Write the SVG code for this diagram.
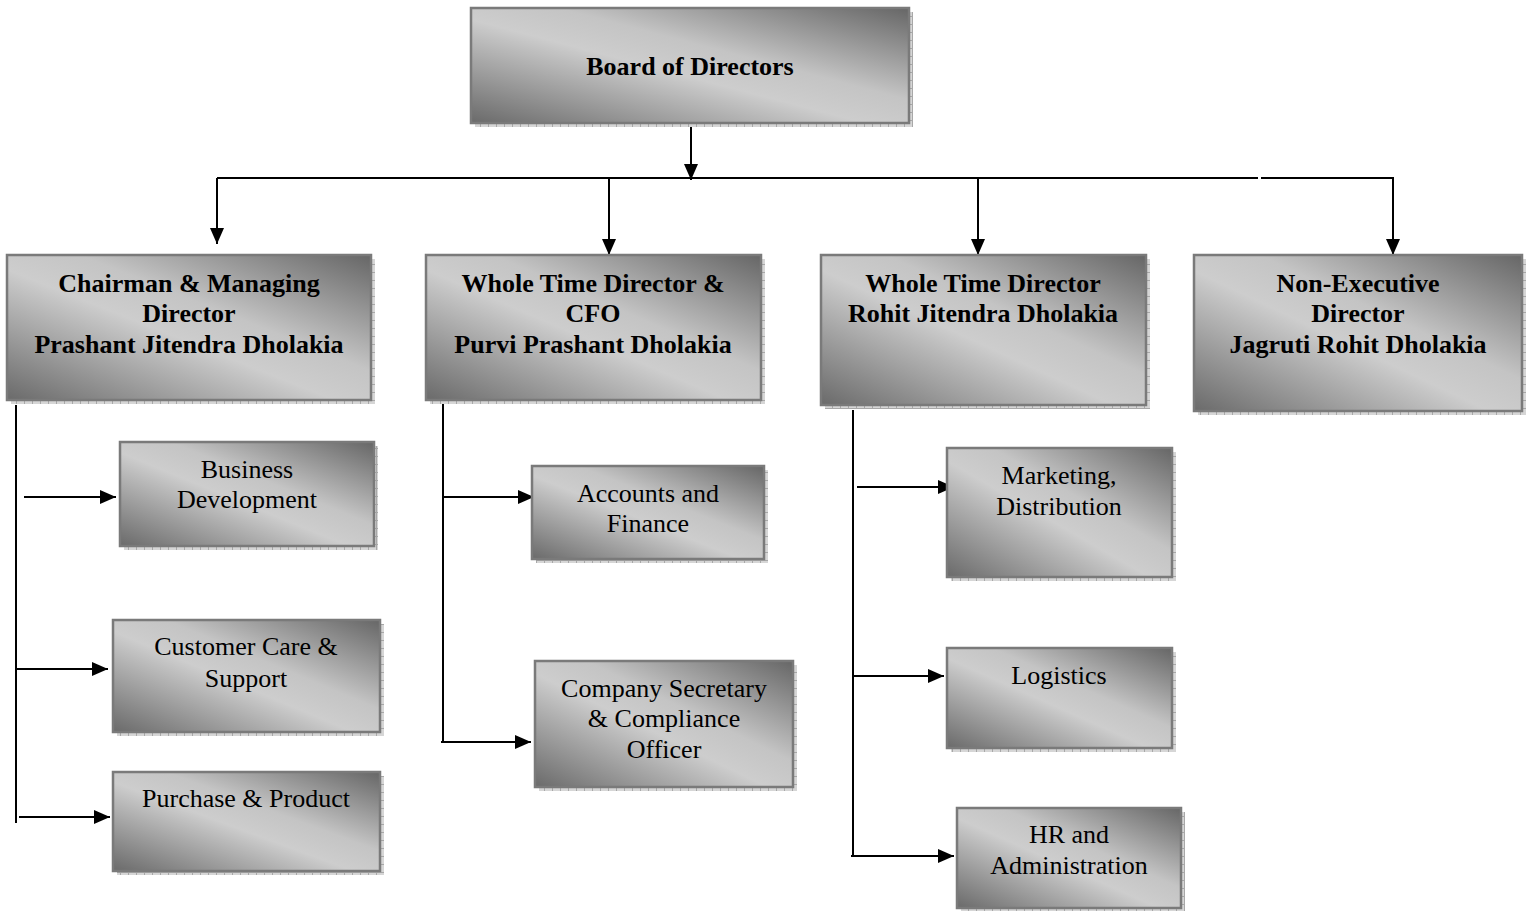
<svg xmlns="http://www.w3.org/2000/svg" width="1530" height="911" viewBox="0 0 1530 911">
<defs>
<linearGradient id="g" x1="0" y1="1" x2="1" y2="0">
<stop offset="0" stop-color="#6a6a6a"/>
<stop offset="0.45" stop-color="#cdcdcd"/>
<stop offset="0.6" stop-color="#c4c4c4"/>
<stop offset="1" stop-color="#666666"/>
</linearGradient>
<pattern id="hatch" width="8" height="8" patternUnits="userSpaceOnUse">
<rect width="8" height="8" fill="#d6d6d6"/>
<path d="M0 0.5H8M0.5 0V8" stroke="#a8a8a8" stroke-width="1"/>
</pattern>
<marker id="ah" viewBox="0 0 16 14" refX="16" refY="7" markerWidth="16" markerHeight="14" markerUnits="userSpaceOnUse" orient="auto">
<path d="M0 0L16 7L0 14Z" fill="#000"/>
</marker>
</defs>
<style>
.sh{fill:url(#hatch);}
.bx{fill:url(#g);stroke:#7a7a7a;stroke-width:2.5;}
.b{font-family:"Liberation Serif","Times New Roman",serif;font-weight:bold;font-size:26px;fill:#000;text-anchor:middle;}
.r{font-family:"Liberation Serif","Times New Roman",serif;font-size:26px;fill:#000;text-anchor:middle;}
.ln{stroke:#000;stroke-width:2;fill:none;}
.ar{stroke:#000;stroke-width:2;fill:none;marker-end:url(#ah);}
</style>
<rect width="1530" height="911" fill="#fff"/>

<g id="connectors">
<line class="ar" x1="691" y1="123" x2="691" y2="180"/>
<line class="ln" x1="217" y1="178" x2="1258" y2="178"/>
<polyline class="ln" points="1261,178 1393,178 1393,243"/>
<line class="ar" x1="1393" y1="230" x2="1393" y2="255"/>
<line class="ar" x1="217" y1="178" x2="217" y2="244"/>
<line class="ar" x1="609" y1="178" x2="609" y2="255"/>
<line class="ar" x1="978" y1="178" x2="978" y2="255"/>

<line class="ln" x1="16" y1="405" x2="16" y2="823"/>
<line class="ar" x1="24" y1="497" x2="116" y2="497"/>
<line class="ar" x1="16" y1="669" x2="108" y2="669"/>
<line class="ar" x1="19" y1="817" x2="110" y2="817"/>

<line class="ln" x1="443" y1="404" x2="443" y2="743"/>
<line class="ar" x1="443" y1="497" x2="534" y2="497"/>
<line class="ar" x1="441" y1="742" x2="531" y2="742"/>

<line class="ln" x1="853" y1="410" x2="853" y2="857"/>
<line class="ar" x1="857" y1="487" x2="954" y2="487"/>
<line class="ar" x1="853" y1="676" x2="944" y2="676"/>
<line class="ar" x1="851" y1="856" x2="954" y2="856"/>
</g>

<g id="board">
<rect class="sh" x="475" y="12" width="438" height="115"/>
<rect class="bx" x="471" y="8" width="438" height="115"/>
<text class="b" x="690" y="75">Board of Directors</text>
</g>

<g id="cmd">
<rect class="sh" x="11" y="259" width="364" height="145"/>
<rect class="bx" x="7" y="255" width="364" height="145"/>
<text class="b" x="189" y="292">Chairman &amp; Managing</text>
<text class="b" x="189" y="322">Director</text>
<text class="b" x="189" y="353">Prashant Jitendra Dholakia</text>
</g>

<g id="wtd-cfo">
<rect class="sh" x="430" y="259" width="335" height="145"/>
<rect class="bx" x="426" y="255" width="335" height="145"/>
<text class="b" x="593" y="292">Whole Time Director &amp;</text>
<text class="b" x="593" y="322">CFO</text>
<text class="b" x="593" y="353">Purvi Prashant Dholakia</text>
</g>

<g id="wtd-rohit">
<rect class="sh" x="825" y="259" width="325" height="150"/>
<rect class="bx" x="821" y="255" width="325" height="150"/>
<text class="b" x="983" y="292">Whole Time Director</text>
<text class="b" x="983" y="322">Rohit Jitendra Dholakia</text>
</g>

<g id="ned">
<rect class="sh" x="1198" y="259" width="328" height="156"/>
<rect class="bx" x="1194" y="255" width="328" height="156"/>
<text class="b" x="1358" y="292">Non-Executive</text>
<text class="b" x="1358" y="322">Director</text>
<text class="b" x="1358" y="353">Jagruti Rohit Dholakia</text>
</g>

<g id="bizdev">
<rect class="sh" x="124" y="446" width="254" height="104"/>
<rect class="bx" x="120" y="442" width="254" height="104"/>
<text class="r" x="247" y="478">Business</text>
<text class="r" x="247" y="508">Development</text>
</g>

<g id="customer-care">
<rect class="sh" x="117" y="624" width="267" height="112"/>
<rect class="bx" x="113" y="620" width="267" height="112"/>
<text class="r" x="246" y="655">Customer Care &amp;</text>
<text class="r" x="246" y="687">Support</text>
</g>

<g id="purchase">
<rect class="sh" x="117" y="776" width="267" height="99"/>
<rect class="bx" x="113" y="772" width="267" height="99"/>
<text class="r" x="246" y="807">Purchase &amp; Product</text>
</g>

<g id="accounts">
<rect class="sh" x="536" y="470" width="232" height="93"/>
<rect class="bx" x="532" y="466" width="232" height="93"/>
<text class="r" x="648" y="502">Accounts and</text>
<text class="r" x="648" y="532">Finance</text>
</g>

<g id="company-secretary">
<rect class="sh" x="539" y="665" width="258" height="126"/>
<rect class="bx" x="535" y="661" width="258" height="126"/>
<text class="r" x="664" y="697">Company Secretary</text>
<text class="r" x="664" y="727">&amp; Compliance</text>
<text class="r" x="664" y="758">Officer</text>
</g>

<g id="marketing">
<rect class="sh" x="951" y="452" width="225" height="129"/>
<rect class="bx" x="947" y="448" width="225" height="129"/>
<text class="r" x="1059" y="484">Marketing,</text>
<text class="r" x="1059" y="515">Distribution</text>
</g>

<g id="logistics">
<rect class="sh" x="951" y="652" width="225" height="100"/>
<rect class="bx" x="947" y="648" width="225" height="100"/>
<text class="r" x="1059" y="684">Logistics</text>
</g>

<g id="hr">
<rect class="sh" x="961" y="812" width="224" height="100"/>
<rect class="bx" x="957" y="808" width="224" height="100"/>
<text class="r" x="1069" y="843">HR and</text>
<text class="r" x="1069" y="874">Administration</text>
</g>
</svg>
